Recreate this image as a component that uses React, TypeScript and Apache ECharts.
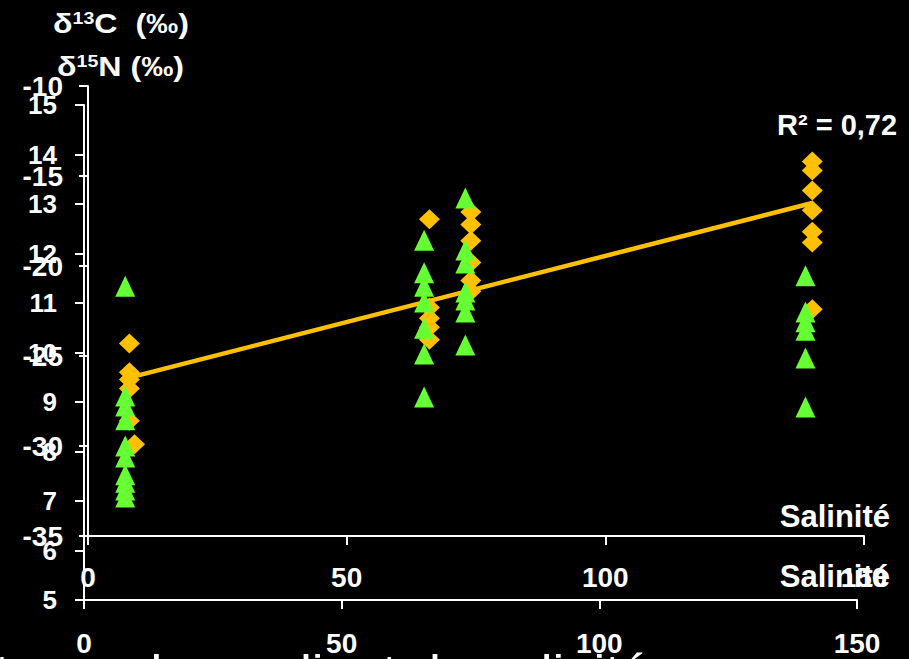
import React, { useEffect, useRef } from 'react';
import * as echarts from 'echarts';

// Salinity (x) values shared by both overlaid charts
const orangeSalinity = [8, 8, 8, 8, 8, 9, 66, 66, 66, 66, 66, 74, 74, 74, 74, 74, 74, 140, 140, 140, 140, 140, 140, 140];
// δ13C (‰) – orange diamonds
const orangeD13C = [-24.3, -25.9, -26.3, -26.8, -28.6, -29.9, -17.4, -22.3, -22.9, -23.4, -24.1, -17.0, -17.7, -18.6, -19.8, -20.8, -21.4, -14.2, -14.7, -15.8, -16.9, -18.1, -18.7, -22.4];

const greenSalinity = [8, 8, 8, 8, 8, 8, 8, 8, 8, 8, 66, 66, 66, 66, 66, 66, 66, 74, 74, 74, 74, 74, 74, 74, 140, 140, 140, 140, 140, 140];
// δ15N (‰) – green triangles
const greenD15N = [11.34, 9.12, 8.92, 8.64, 8.11, 7.89, 7.53, 7.38, 7.22, 7.08, 12.27, 11.61, 11.34, 11.02, 10.49, 9.97, 9.1, 13.12, 12.07, 11.81, 11.22, 11.06, 10.82, 10.15, 11.55, 10.82, 10.62, 10.45, 9.89, 8.9];

// linear trend (R² = 0,72)
const trendSalinity = [8, 140];
const trendD13C = [-26.2, -16.5];

const FONT = '"Liberation Sans", Arial, Helvetica, sans-serif';
const WHITE = '#ffffff';
const ORANGE = '#FFC000';
const GREEN = '#66FF33';

export default function App() {
  const ref = useRef<HTMLDivElement>(null);
  useEffect(() => {
    document.body.style.margin = '0';
    const chart = echarts.init(ref.current!, null, { renderer: 'svg' });
    const axisLine = { onZero: false, lineStyle: { color: WHITE, width: 2 } };
    const axisTick = { length: 9, lineStyle: { color: WHITE, width: 2 } };
    const label = (size: number, margin: number) => ({
      color: WHITE, fontSize: size, fontFamily: FONT, fontWeight: 'bold', margin,
    });
    const zip = (xs: number[], ys: number[]) => xs.map((x, i) => [x, ys[i]]);
    const richTitle = {
      a: { fontSize: 28, fontWeight: 'bold', fontFamily: FONT, fill: WHITE, color: WHITE },
      s: { fontSize: 17, fontWeight: 'bold', fontFamily: FONT, fill: WHITE, color: WHITE, verticalAlign: 'top' },
    };
    chart.setOption({
      animation: false,
      backgroundColor: '#000000',
      grid: [
        { left: 88, top: 86, width: 776, height: 450 },
        { left: 84, top: 105, width: 773, height: 495 },
      ],
      xAxis: [
        { gridIndex: 0, type: 'value', min: 0, max: 150, interval: 50, axisLine, axisTick, splitLine: { show: false }, axisLabel: label(28, 27) },
        { gridIndex: 1, type: 'value', min: 0, max: 150, interval: 50, axisLine, axisTick, splitLine: { show: false }, axisLabel: label(28, 29) },
      ],
      yAxis: [
        { gridIndex: 0, type: 'value', min: -35, max: -10, interval: 5, axisLine, axisTick, splitLine: { show: false }, axisLabel: label(28, 25) },
        { gridIndex: 1, type: 'value', min: 5, max: 15, interval: 1, axisLine, axisTick, splitLine: { show: false }, axisLabel: label(26, 27) },
      ],
      series: [
        {
          type: 'line', xAxisIndex: 0, yAxisIndex: 0, data: zip(trendSalinity, trendD13C),
          showSymbol: false, symbol: 'none', lineStyle: { color: ORANGE, width: 4.5 }, z: 2,
        },
        {
          type: 'scatter', xAxisIndex: 0, yAxisIndex: 0, data: zip(orangeSalinity, orangeD13C),
          symbol: 'diamond', symbolSize: [21, 20], itemStyle: { color: ORANGE, opacity: 1 }, z: 3,
        },
        {
          type: 'scatter', xAxisIndex: 1, yAxisIndex: 1, data: zip(greenSalinity, greenD15N),
          symbol: 'triangle', symbolSize: [20, 21], itemStyle: { color: GREEN, opacity: 1 }, z: 4,
        },
      ],
      graphic: [
        { type: 'text', x: 53, y: 9, scaleX: 1.15, z: 10, style: { text: '{a|δ}{s|13}{a|C  (‰)}', rich: richTitle } },
        { type: 'text', x: 57, y: 52, scaleX: 1.15, z: 10, style: { text: '{a|δ}{s|15}{a|N (‰)}', rich: richTitle } },
        { type: 'text', x: 777, y: 110, z: 10, style: { text: 'R² = 0,72', fill: WHITE, fontSize: 29, fontWeight: 'bold', fontFamily: FONT } },
        { type: 'text', x: 890, y: 516, z: 10, style: { text: 'Salinité', fill: WHITE, fontSize: 31, fontWeight: 'bold', fontFamily: FONT, align: 'right', verticalAlign: 'middle' } },
        { type: 'text', x: 890, y: 576, z: 10, style: { text: 'Salinité', fill: WHITE, fontSize: 31, fontWeight: 'bold', fontFamily: FONT, align: 'right', verticalAlign: 'middle' } },
        { type: 'text', x: -5, y: 649, scaleX: 1.2, z: 10, style: { text: 't avec le gradient de salinité', fill: WHITE, fontSize: 44, fontFamily: FONT, align: 'left', verticalAlign: 'top' } },
      ],
    });
    return () => chart.dispose();
  }, []);
  return (
    <div
      ref={ref}
      style={{ position: 'fixed', left: 0, top: 0, width: 909, height: 659, background: '#000' }}
    />
  );
}
